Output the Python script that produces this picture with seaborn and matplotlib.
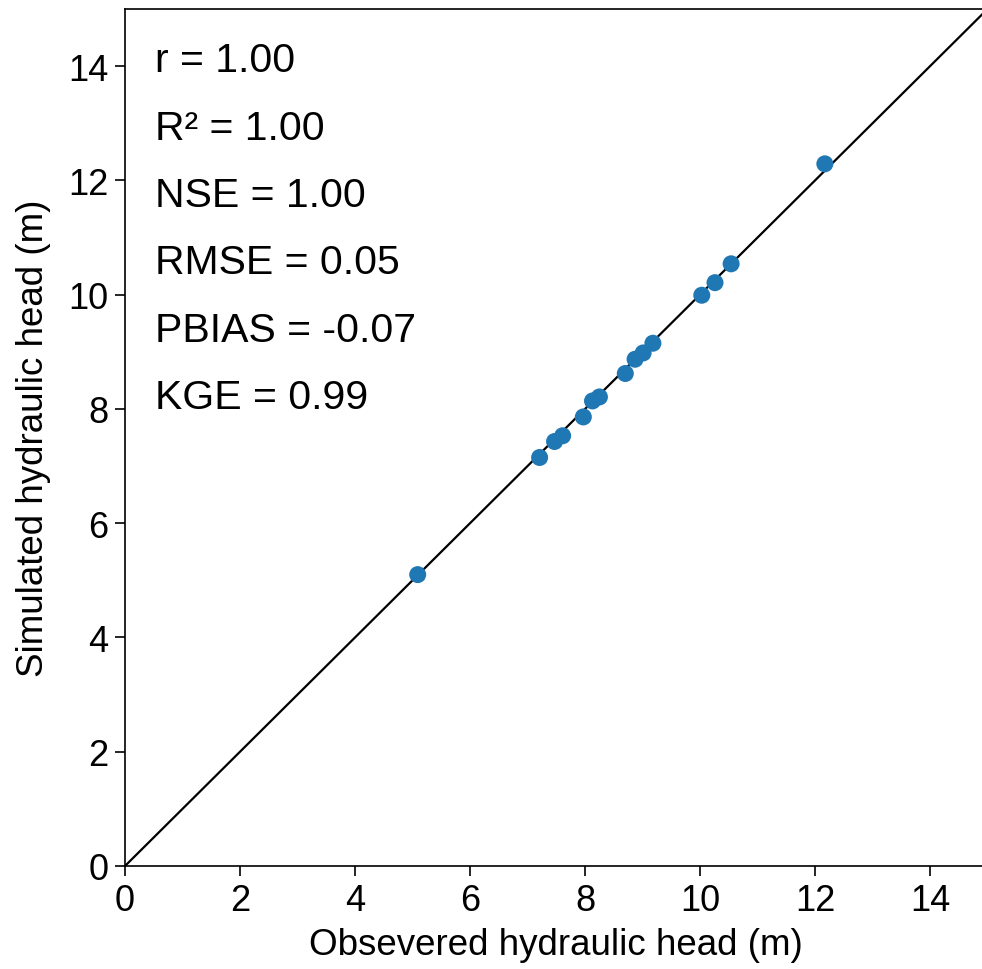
import matplotlib
matplotlib.use("Agg")
import matplotlib.pyplot as plt
import seaborn as sns
import pandas as pd

observed = [5.09, 7.21, 7.47, 7.61, 7.97, 8.13, 8.25, 8.70, 8.87, 9.01, 9.18, 10.03, 10.26, 10.54, 12.17]
simulated = [5.10, 7.15, 7.43, 7.53, 7.86, 8.14, 8.21, 8.62, 8.87, 8.98, 9.15, 9.99, 10.21, 10.54, 12.29]
stats_labels = ["r = 1.00", "R\u00b2 = 1.00", "NSE = 1.00", "RMSE = 0.05", "PBIAS = -0.07", "KGE = 0.99"]
ticks = [0, 2, 4, 6, 8, 10, 12, 14]

sns.set_style("ticks")
plt.rcParams['font.family'] = ['Liberation Sans', 'DejaVu Sans']
plt.rcParams['text.color'] = 'black'
plt.rcParams['axes.labelcolor'] = 'black'
plt.rcParams['xtick.color'] = 'black'
plt.rcParams['ytick.color'] = 'black'

df = pd.DataFrame({"obs": observed, "sim": simulated})

fig = plt.figure(figsize=(9.82, 9.70), dpi=100)
ax = fig.add_axes([125/982, (970-867)/970, 862/982, 857/970])

ax.plot([0, 15], [0, 15], color="black", lw=1.6, zorder=1)
sns.scatterplot(data=df, x="obs", y="sim", ax=ax, s=150, color="#1f77b4",
                edgecolor="none", linewidth=0, zorder=2)

ax.set_xlim(0, 14.99)
ax.set_ylim(0, 15.0)
ax.set_xticks(ticks)
ax.set_yticks(ticks)
ax.tick_params(axis="both", labelsize=26, length=7, width=1.2, pad=5,
               direction="out", colors="black")
ax.set_xlabel("Obsevered hydraulic head (m)", fontsize=26.5, labelpad=7)
ax.set_ylabel("Simulated hydraulic head (m)", fontsize=26.5, labelpad=12)
for sp in ax.spines.values():
    sp.set_visible(True)
    sp.set_linewidth(1.2)
    sp.set_color("black")

for i, t in enumerate(stats_labels):
    ax.text(0.035, 0.94 - i * 0.0785, t, transform=ax.transAxes, fontsize=29.5,
            va="center", ha="left", color="black")

fig.savefig("out.png", dpi=100)
